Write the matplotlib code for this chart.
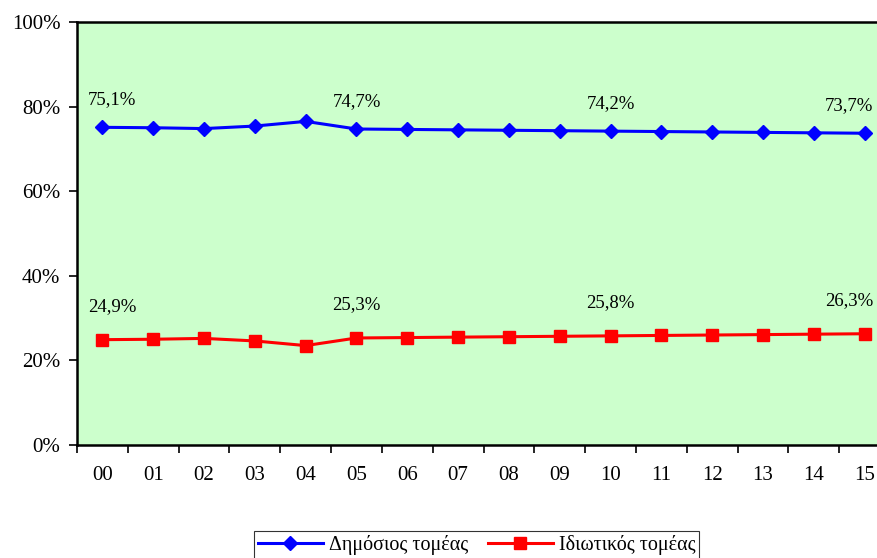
import numpy as np
import matplotlib.pyplot as plt
from matplotlib.ticker import FixedLocator, PercentFormatter

years = ["00", "01", "02", "03", "04", "05", "06", "07", "08", "09",
         "10", "11", "12", "13", "14", "15"]
public = [75.1, 75.0, 74.8, 75.4, 76.5, 74.7, 74.6, 74.5, 74.4, 74.3,
          74.2, 74.1, 74.0, 73.9, 73.8, 73.7]
private = [24.9, 25.0, 25.2, 24.6, 23.5, 25.3, 25.4, 25.5, 25.6, 25.7,
           25.8, 25.9, 26.0, 26.1, 26.2, 26.3]
labelled = [0, 5, 10, 15]

plt.rcParams['font.family'] = ['Liberation Serif', 'DejaVu Serif']

fig = plt.figure(figsize=(8.78, 5.58), dpi=100)
ax = fig.add_axes([0.0877, 0.2025, 1.0137 - 0.0877, 0.9606 - 0.2025])
ax.set_facecolor('#CCFFCC')

x = np.arange(len(years))
ax.plot(x, public, color='#0000FF', lw=2.2, marker='D', ms=7.5,
        label='Δημόσιος τομέας', clip_on=False)
ax.plot(x, private, color='#FF0000', lw=2.2, marker='s', ms=8.5,
        label='Ιδιωτικός τομέας', clip_on=False)

# value labels (first nudged right, last nudged left to stay on the canvas)
for i in labelled:
    dx = 7 if i == 0 else (-11 if i == labelled[-1] else 0)
    ax.annotate(f"{public[i]:.1f}%".replace('.', ','), (x[i], public[i]),
                xytext=(dx, 20), textcoords='offset points', ha='center',
                va='center', fontsize=13.5, annotation_clip=False)
    ax.annotate(f"{private[i]:.1f}%".replace('.', ','), (x[i], private[i]),
                xytext=(dx, 24), textcoords='offset points', ha='center',
                va='center', fontsize=13.5, annotation_clip=False)

ax.set_xlim(-0.5, len(years) - 0.5)
ax.set_ylim(0, 100)
ax.set_xticks(x)
ax.set_xticklabels(years, fontsize=15)
ax.xaxis.set_minor_locator(FixedLocator(np.arange(-0.5, len(years), 1)))
ax.tick_params(axis='x', which='major', length=0, pad=15)
ax.tick_params(axis='x', which='minor', length=6, width=1.2, direction='out')

ax.set_yticks(np.arange(0, 101, 20))
ax.yaxis.set_major_formatter(PercentFormatter(decimals=0))
ax.tick_params(axis='y', length=6, width=1.2, direction='out', labelsize=15, pad=6)

for s in ax.spines.values():
    s.set_linewidth(1.8)
    s.set_color('black')

leg = fig.legend(loc='upper center', bbox_to_anchor=(0.543, 0.048), ncol=2,
                 fontsize=14.5, frameon=True, fancybox=False, edgecolor='black',
                 handlelength=3.2, columnspacing=1.0, borderpad=0.2,
                 handletextpad=0.3, borderaxespad=0)
leg.get_frame().set_linewidth(0.8)

fig.savefig('out.png', dpi=100)
